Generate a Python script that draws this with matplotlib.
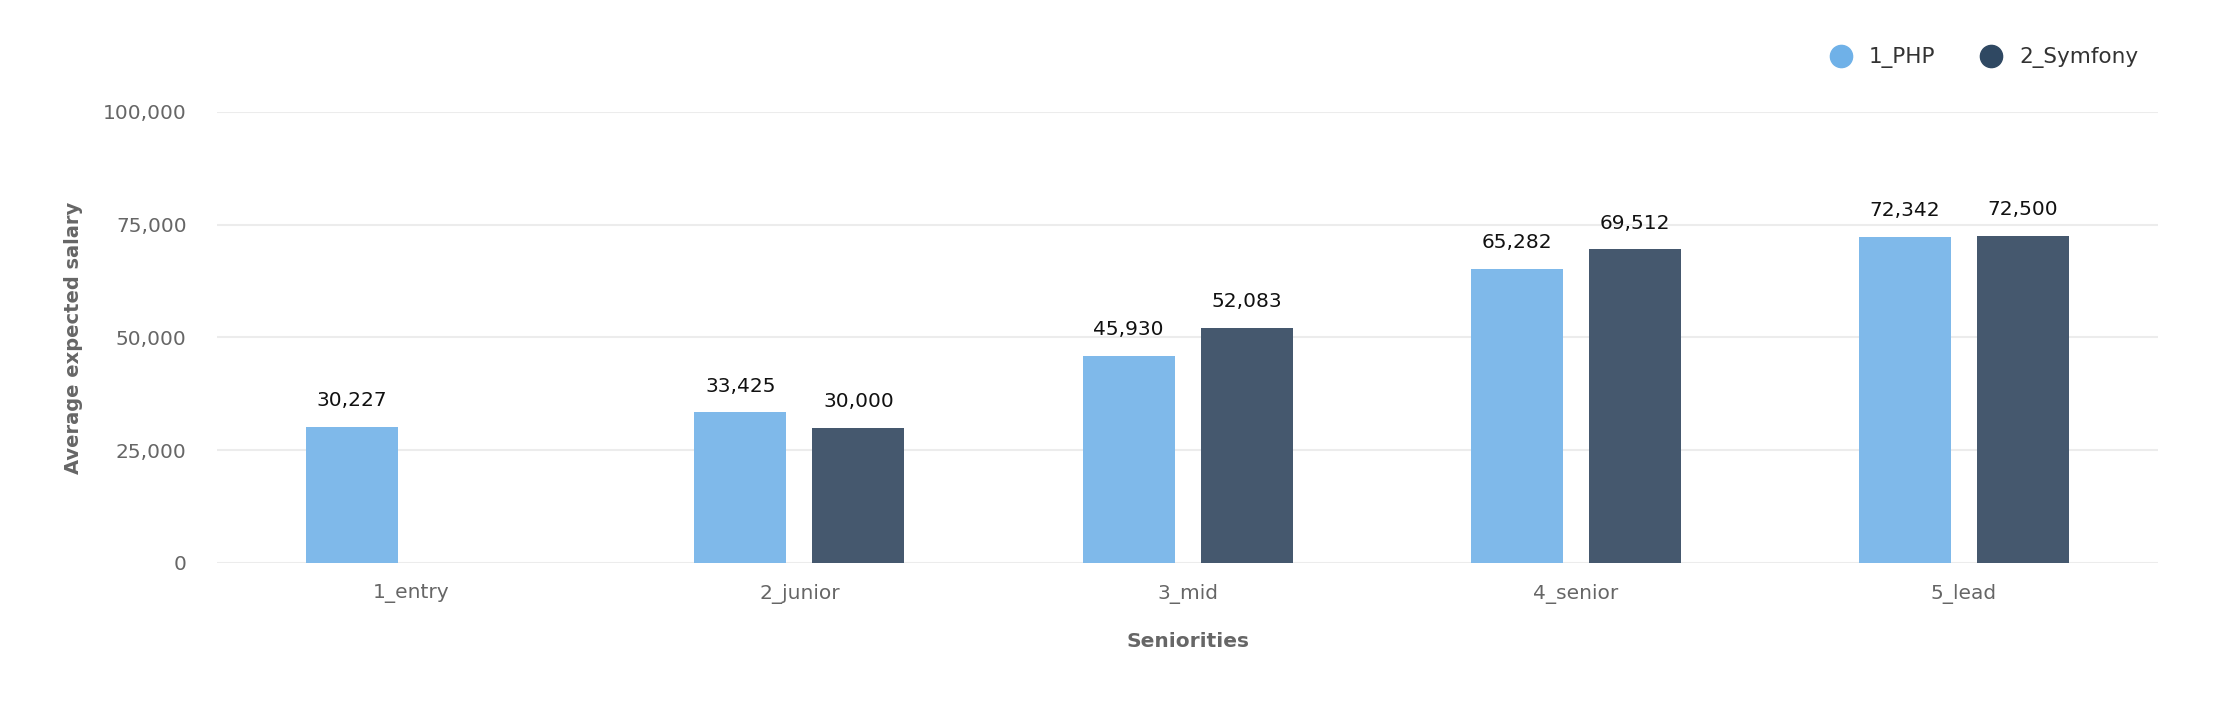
import matplotlib
matplotlib.use("Agg")
import matplotlib.pyplot as plt
from matplotlib.lines import Line2D
import numpy as np

seniorities = ["1_entry", "2_junior", "3_mid", "4_senior", "5_lead"]
php = [30227, 33425, 45930, 65282, 72342]
symfony = [None, 30000, 52083, 69512, 72500]
series_names = ["1_PHP", "2_Symfony"]
y_ticks = [0, 25000, 50000, 75000, 100000]

col_php = "#7fb9ea"
col_sym = "#45586e"
col_php_leg = "#6fb1e8"
col_sym_leg = "#2f4862"

plt.rcParams["font.family"] = ["DejaVu Sans"]

fig = plt.figure(figsize=(22.22, 7.16), dpi=100)
ax = fig.add_axes([0.0977, 0.2137, 0.8735, 0.6299])

x = np.arange(len(seniorities))
w = 0.237
off = 0.152

for i in range(len(seniorities)):
    if php[i] is not None:
        ax.bar(x[i] - off, php[i], width=w, color=col_php, zorder=3)
        ax.annotate(f"{php[i]:,}", (x[i] - off, php[i]), xytext=(0, 12),
                    textcoords="offset points", ha="center", va="bottom",
                    fontsize=14.5, color="#111111")
    if symfony[i] is not None:
        ax.bar(x[i] + off, symfony[i], width=w, color=col_sym, zorder=3)
        ax.annotate(f"{symfony[i]:,}", (x[i] + off, symfony[i]), xytext=(0, 12),
                    textcoords="offset points", ha="center", va="bottom",
                    fontsize=14.5, color="#111111")

ax.set_xlim(-0.5, len(seniorities) - 0.5)
ax.set_ylim(0, 100000)
ax.set_yticks(y_ticks)
ax.set_yticklabels([f"{v:,}" for v in y_ticks])
ax.set_xticks(x)
ax.set_xticklabels(seniorities)

ax.grid(axis="y", color="#ececec", linewidth=1.5, zorder=0)
ax.set_axisbelow(True)
for s in ax.spines.values():
    s.set_visible(False)
ax.tick_params(axis="both", length=0, labelsize=14.5, labelcolor="#666666")
ax.tick_params(axis="y", pad=22)
ax.tick_params(axis="x", pad=15)

ax.set_xlabel("Seniorities", fontsize=14.5, fontweight="bold", color="#666666", labelpad=20)
ax.set_ylabel("Average expected salary", fontsize=14, fontweight="bold", color="#666666", labelpad=14)

handles = [
    Line2D([], [], marker="o", linestyle="none", markersize=16, color=col_php_leg),
    Line2D([], [], marker="o", linestyle="none", markersize=16, color=col_sym_leg),
]
fig.legend(handles, series_names, loc="center right", bbox_to_anchor=(0.971, 0.919),
           ncol=2, frameon=False, fontsize=15.5, handletextpad=0.3, columnspacing=1.6,
           labelcolor="#333333")

fig.savefig("out.png", dpi=100, facecolor="white")
